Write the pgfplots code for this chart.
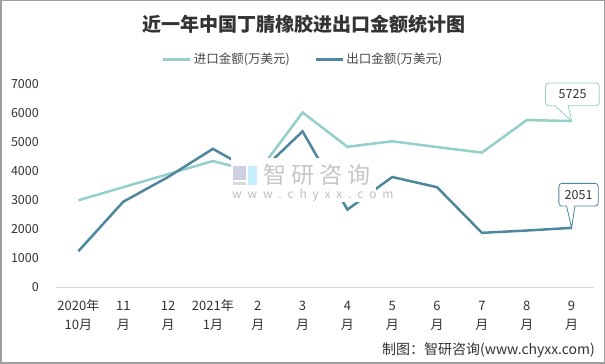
\documentclass[border=0pt]{standalone}
\usepackage{pgfplots}
\pgfplotsset{compat=1.18}
\usepackage{fontspec}
\setmainfont{Noto Sans CJK SC}
\definecolor{imp}{RGB}{147,207,203}
\definecolor{exp}{RGB}{79,135,158}
\definecolor{txt}{RGB}{51,51,51}
\begin{document}
\begin{tikzpicture}[x=1pt,y=1pt]
\useasboundingbox (0,0) rectangle (605,364);
\draw[fill=white,draw=gray!75,line width=1.5pt] (0.75,0.75) rectangle (604.25,363.25);
\node[font=\fontsize{19}{22}\selectfont\bfseries,text=txt] at (304,340) {近一年中国丁腈橡胶进出口金额统计图};
\begin{axis}[
  at={(56pt,76.5pt)}, anchor=south west,
  scale only axis, width=538pt, height=203.5pt,
  xmin=-0.5, xmax=11.5, ymin=0, ymax=7000,
  clip=false,
  axis x line*=bottom, axis y line*=left,
  x axis line style={draw=gray!30,line width=1pt},
  y axis line style={draw=none},
  major tick length=0pt,
  xtick={0,...,11},
  xticklabels={{2020年\\10月},{\vphantom{年}11\\月},{\vphantom{年}12\\月},{2021年\\1月},{\vphantom{年}2\\月},{\vphantom{年}3\\月},{\vphantom{年}4\\月},{\vphantom{年}5\\月},{\vphantom{年}6\\月},{\vphantom{年}7\\月},{\vphantom{年}8\\月},{\vphantom{年}9\\月}},
  xticklabel style={align=center,font=\fontsize{13}{18.5}\selectfont,text=txt,anchor=north,inner sep=0pt,yshift=-12pt},
  ytick={0,1000,...,7000},
  yticklabel style={font=\fontsize{12.5}{14}\selectfont,text=txt,anchor=east,inner sep=0pt,xshift=-17pt},
  /pgf/number format/assume math mode=true,
  /pgf/number format/set thousands separator={},
  legend style={at={(rel axis cs:0.459,1)},anchor=center,yshift=24.7pt,draw=none,fill=none,
    legend columns=2,font=\fontsize{12.5}{14}\selectfont,text=txt!90,inner sep=0pt,
    /tikz/every even column/.append style={column sep=22pt}},
  legend image code/.code={\draw[#1,line width=3.5pt] (0pt,0pt) -- (27pt,0pt);},
]
\addplot[imp,line width=2.5pt] coordinates {(0,3000) (1,3450) (2,3900) (3,4350) (4,3950) (5,6020) (6,4840) (7,5030) (8,4830) (9,4640) (10,5760) (11,5725)};
\addlegendentry{进口金额(万美元)}
\addplot[exp,line width=2.5pt] coordinates {(0,1250) (1,2950) (2,3800) (3,4770) (4,3900) (5,5370) (6,2680) (7,3800) (8,3450) (9,1880) (10,1960) (11,2051)};
\addlegendentry{出口金额(万美元)}
\coordinate (pi) at (axis cs:11,5725);
\coordinate (pe) at (axis cs:11,2051);
\end{axis}
% watermark
\fill[white] (231,162) rectangle (376,206);
\begin{scope}
\fill[blue!25!gray!30] (233,184) rectangle (246,198);
\fill[blue!30!cyan!22] (248,179) rectangle (257,198);
\fill[gray!30] (233,179) rectangle (246,182);
\end{scope}
\node[font=\fontsize{23}{25}\selectfont,text=gray!45,anchor=west,inner sep=0pt] at (263,189) {智\hspace{5pt}研\hspace{5pt}咨\hspace{5pt}询};
\node[font=\fontsize{12}{14}\selectfont,text=gray!50,anchor=west,inner sep=0pt] at (232,169) {w\hspace{5.8pt}w\hspace{5.8pt}w\hspace{5.8pt}.\hspace{5.8pt}c\hspace{5.8pt}h\hspace{5.8pt}y\hspace{5.8pt}x\hspace{5.8pt}x\hspace{5.8pt}.\hspace{5.8pt}c\hspace{5.8pt}o\hspace{5.8pt}m};
% callouts
\begin{scope}[shift={(pi)}]
\draw[imp,line width=0.8pt,fill=white] (-16.7,15.4) -- (0,0) -- (-3.4,15.4) -- (24.6,15.4) arc (-90:0:3) -- (27.6,35) arc (0:90:3) -- (-23,38) arc (90:180:3) -- (-26,18.4) arc (180:270:3) -- cycle;
\node[font=\fontsize{12.5}{14}\selectfont,text=txt] at (1,26.7) {5725};
\end{scope}
\begin{scope}[shift={(pe)}]
\draw[exp,line width=0.8pt,fill=white] (-5,21.8) -- (0,0) -- (3.3,21.8) -- (23.6,21.8) arc (-90:0:3) -- (26.6,41.5) arc (0:90:3) -- (-9.7,44.5) arc (90:180:3) -- (-12.7,24.8) arc (180:270:3) -- cycle;
\node[font=\fontsize{12.5}{14}\selectfont,text=txt] at (7,33.2) {2051};
\end{scope}
\node[font=\fontsize{14}{16}\selectfont,text=txt,anchor=east,inner sep=0pt] at (595,13.5) {制图：智研咨询(www.chyxx.com)};
\end{tikzpicture}
\end{document}
